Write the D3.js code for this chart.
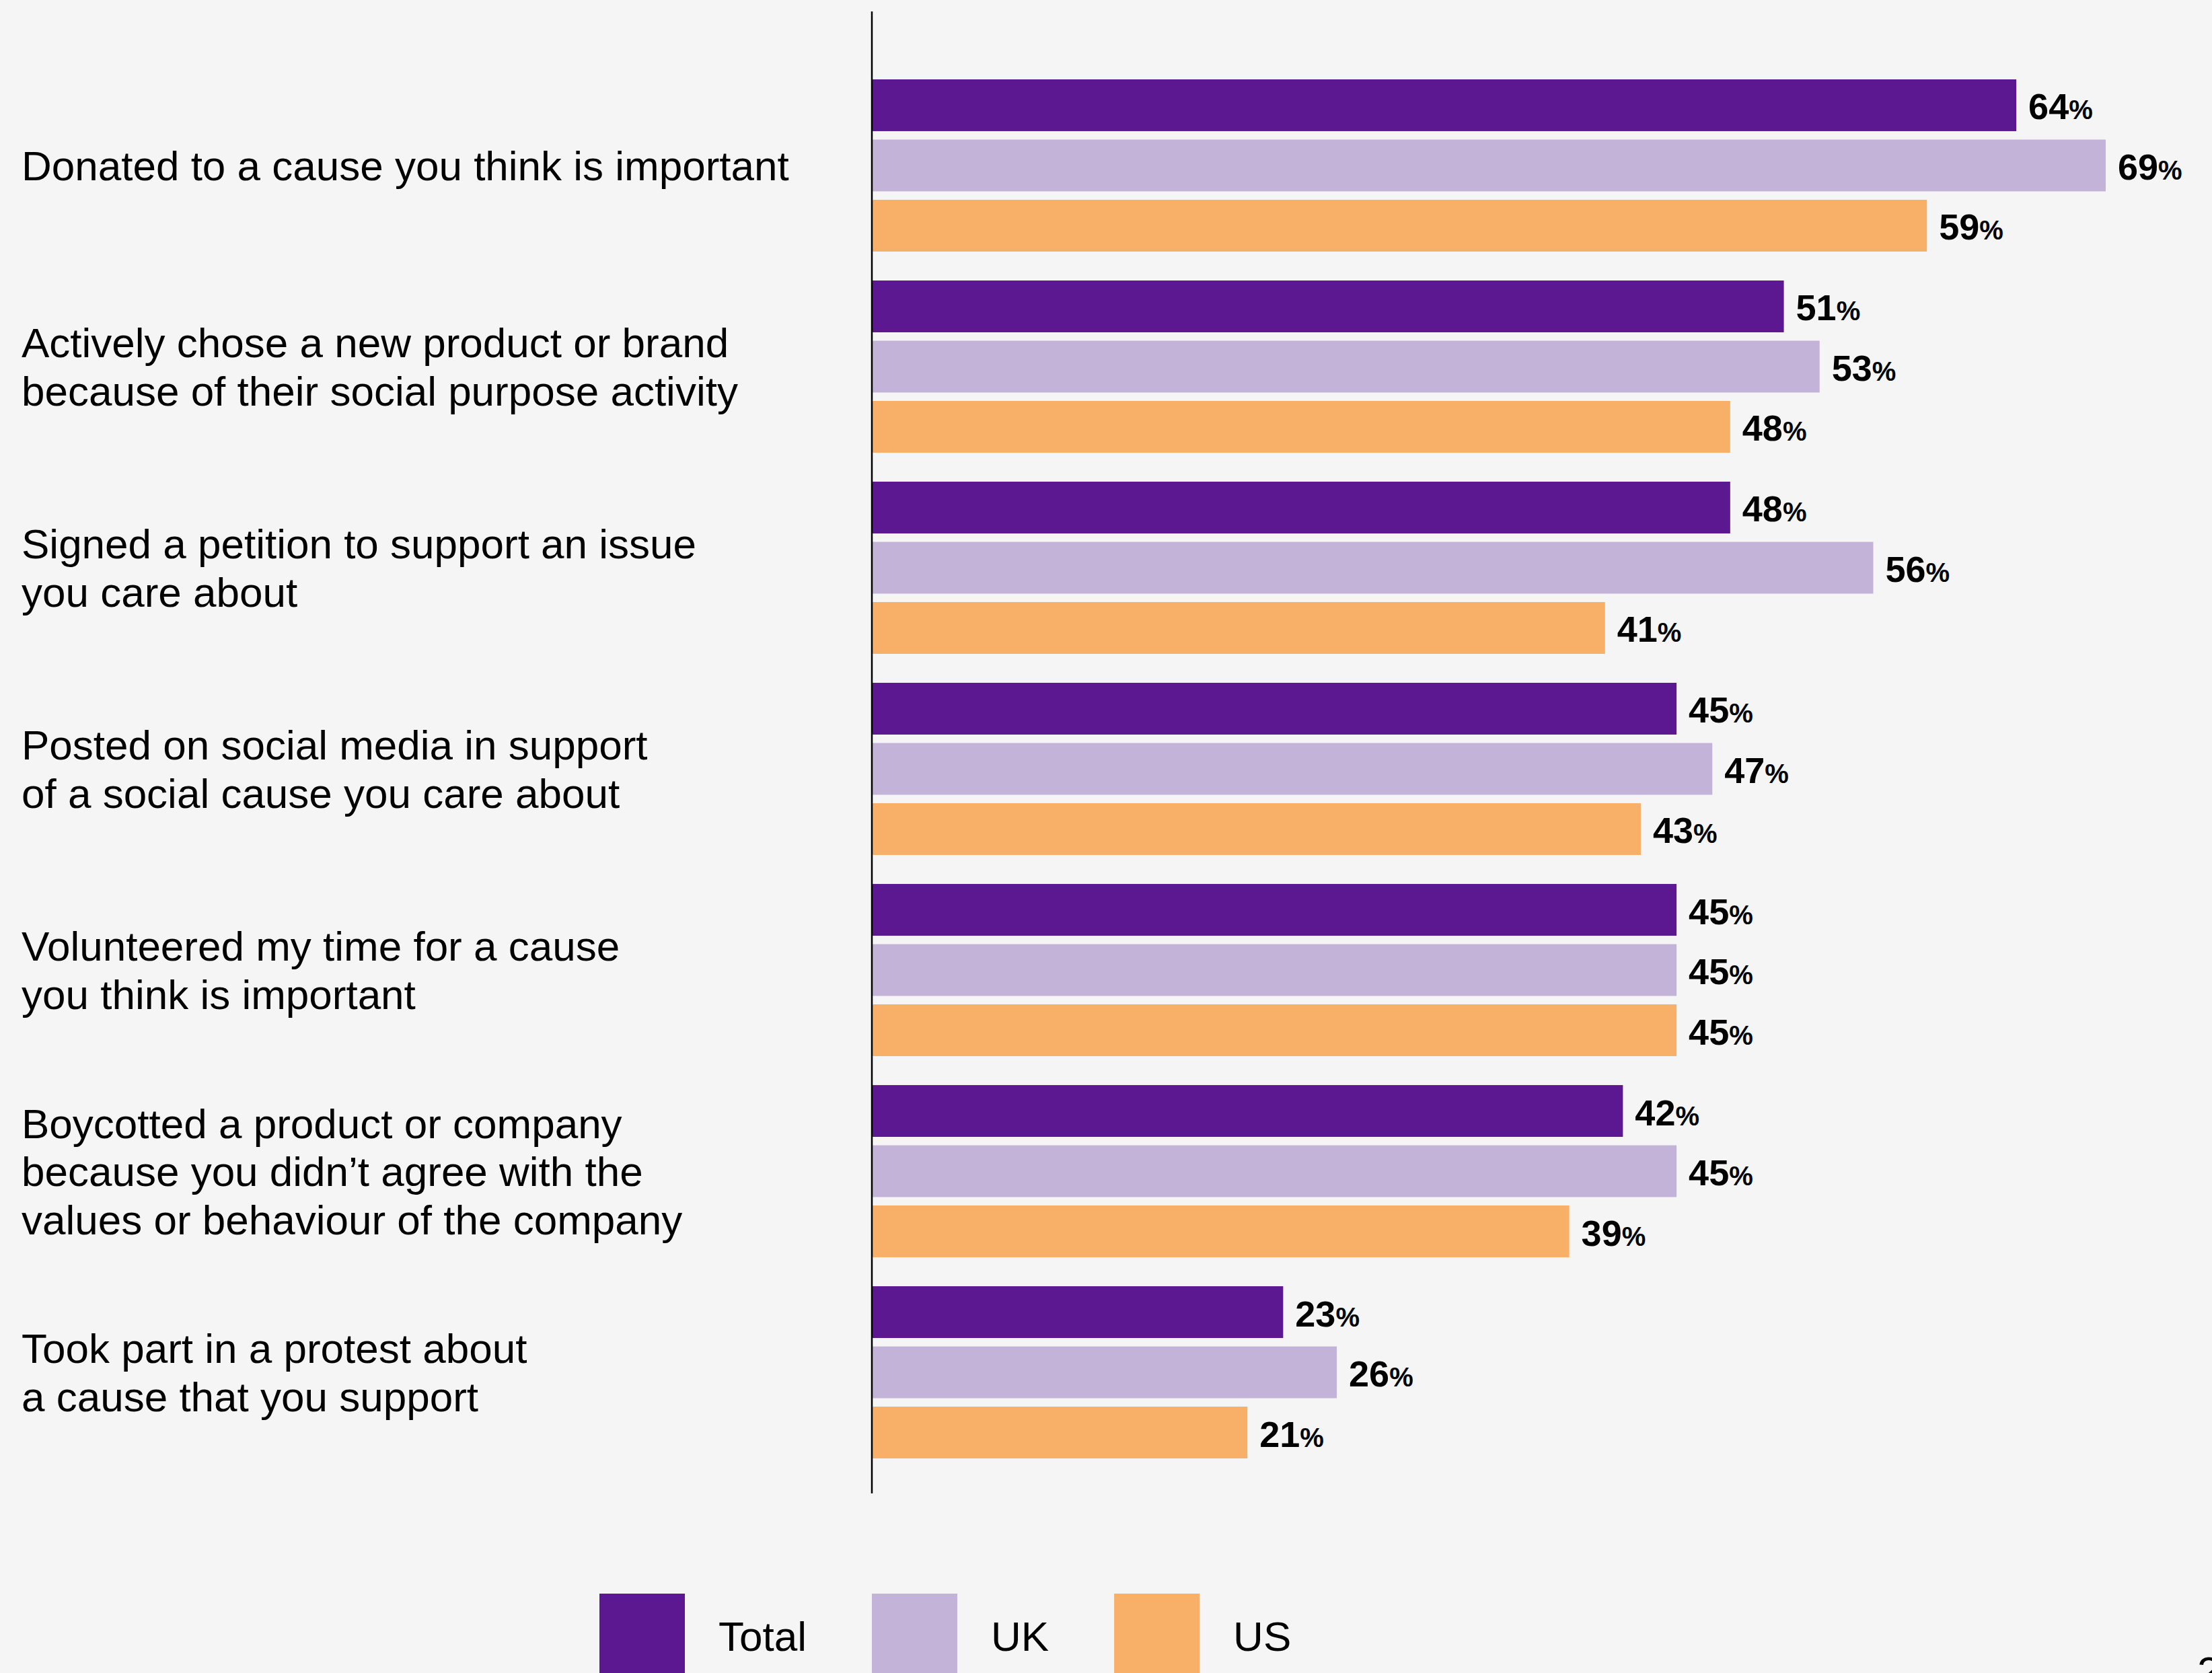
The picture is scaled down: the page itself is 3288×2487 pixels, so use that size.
<!DOCTYPE html>
<html>
<head>
<meta charset="utf-8">
<script src="https://cdn.jsdelivr.net/npm/d3@7"></script>
<style>
  html, body { margin: 0; padding: 0; background: #f5f5f5; }
  svg { display: block; }
</style>
</head>
<body>
<svg id="chart" width="3288" height="2487"></svg>
<script>
// Actions taken in support of a cause, by market (% of respondents)
const categories = [
  "Donated to a cause you think is important",
  "Actively chose a new product or brand\nbecause of their social purpose activity",
  "Signed a petition to support an issue\nyou care about",
  "Posted on social media in support\nof a social cause you care about",
  "Volunteered my time for a cause\nyou think is important",
  "Boycotted a product or company\nbecause you didn\u2019t agree with the\nvalues or behaviour of the company",
  "Took part in a protest about\na cause that you support"
];
const seriesNames = ["Total", "UK", "US"];
const totalValues = [64, 51, 48, 45, 45, 42, 23];
const ukValues    = [69, 53, 56, 47, 45, 45, 26];
const usValues    = [59, 48, 41, 43, 45, 39, 21];
const pageNumber = "2";

const seriesValues = { Total: totalValues, UK: ukValues, US: usValues };
const colors = d3.scaleOrdinal()
  .domain(seriesNames)
  .range(["#5c1891", "#c4b3d8", "#f8af68"]);

const svg = d3.select("#chart");
const W = 3288, H = 2487;
svg.append("rect").attr("width", W).attr("height", H).attr("fill", "#f5f5f5");

const axisX = 1296;
const x = d3.scaleLinear().domain([0, 100]).range([axisX, axisX + 2658]);

const y = d3.scaleBand()
  .domain(d3.range(categories.length))
  .range([118, 2168])
  .paddingInner(0.144)
  .paddingOuter(0);

const yInner = d3.scaleBand()
  .domain(seriesNames)
  .range([0, y.bandwidth()])
  .paddingInner(0.14)
  .paddingOuter(0);

const rows = categories.map((c, i) => ({
  index: i,
  label: c,
  bars: seriesNames.map(s => ({ series: s, value: seriesValues[s][i] }))
}));

// Category labels, centred on each group of bars
const labelFont = "'Liberation Sans', Arial, Helvetica, sans-serif";
const labelSize = 62, lineH = 71.5, capH = labelSize * 0.716;
const catG = svg.append("g").attr("class", "categories");
rows.forEach(r => {
  const lines = r.label.split("\n");
  const cy = y(r.index) + y.bandwidth() / 2;
  const blockH = (lines.length - 1) * lineH + capH;
  const firstBase = cy - blockH / 2 + capH;
  const t = catG.append("text")
    .attr("font-family", labelFont)
    .attr("font-size", labelSize)
    .attr("fill", "#000");
  lines.forEach((ln, k) => {
    t.append("tspan").attr("x", 32).attr("y", firstBase + k * lineH).text(ln);
  });
});

// Bars
const groups = svg.append("g").selectAll("g.group")
  .data(rows).join("g")
  .attr("class", "group")
  .attr("transform", d => `translate(0,${y(d.index)})`);

groups.selectAll("rect")
  .data(d => d.bars).join("rect")
  .attr("x", x(0))
  .attr("y", d => yInner(d.series))
  .attr("width", d => x(d.value) - x(0))
  .attr("height", yInner.bandwidth())
  .attr("fill", d => colors(d.series));

// Value labels: bold figure with a smaller percent sign
const vl = groups.selectAll("text.value")
  .data(d => d.bars).join("text")
  .attr("class", "value")
  .attr("x", d => x(d.value) + 18)
  .attr("y", d => yInner(d.series) + yInner.bandwidth() / 2 + 21)
  .attr("font-family", labelFont)
  .attr("font-weight", "bold")
  .attr("fill", "#000");
vl.append("tspan").attr("font-size", 54).text(d => d.value);
vl.append("tspan").attr("font-size", 40).text("%");

// Vertical baseline axis
svg.append("line")
  .attr("x1", axisX).attr("x2", axisX)
  .attr("y1", 17).attr("y2", 2220)
  .attr("stroke", "#000").attr("stroke-width", 2.5);

// Legend
const legend = svg.append("g").attr("class", "legend");
let lx = 891;
seriesNames.forEach(s => {
  legend.append("rect")
    .attr("x", lx).attr("y", 2369)
    .attr("width", 127).attr("height", 140)
    .attr("fill", colors(s));
  const t = legend.append("text")
    .attr("x", lx + 127 + 50).attr("y", 2454)
    .attr("font-family", labelFont)
    .attr("font-size", 62)
    .attr("fill", "#000")
    .text(s);
  lx += 127 + 50 + t.node().getComputedTextLength() + 97;
});

// Page number in the corner
svg.append("text")
  .attr("x", 3266).attr("y", 2506)
  .attr("font-family", labelFont)
  .attr("font-size", 62)
  .attr("fill", "#000")
  .text(pageNumber);
</script>
</body>
</html>
